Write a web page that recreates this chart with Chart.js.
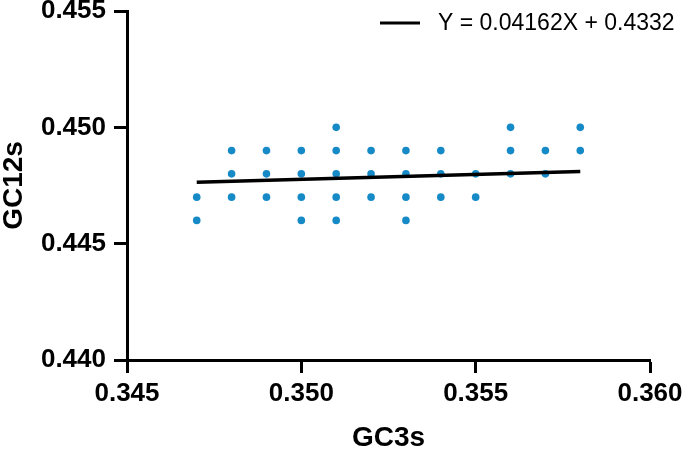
<!DOCTYPE html>
<html>
<head>
<meta charset="utf-8">
<script src="https://cdn.jsdelivr.net/npm/chart.js@4/dist/chart.umd.min.js"></script>
<style>
  html, body { margin: 0; padding: 0; background: #fff; }
  #wrap { width: 685px; height: 449px; }
</style>
</head>
<body>
<div id="wrap"><canvas id="c" width="685" height="449"></canvas></div>
<script>
// GC3s (x) values of the scatter points
const gc3 = [
  0.347, 0.347,
  0.348, 0.348, 0.348,
  0.349, 0.349, 0.349,
  0.350, 0.350, 0.350, 0.350,
  0.351, 0.351, 0.351, 0.351, 0.351,
  0.352, 0.352, 0.352,
  0.353, 0.353, 0.353, 0.353,
  0.354, 0.354, 0.354,
  0.355, 0.355,
  0.356, 0.356, 0.356,
  0.357, 0.357,
  0.358, 0.358
];
// GC12s (y) values of the scatter points
const gc12 = [
  0.447, 0.446,
  0.449, 0.448, 0.447,
  0.449, 0.448, 0.447,
  0.449, 0.448, 0.447, 0.446,
  0.450, 0.449, 0.448, 0.447, 0.446,
  0.449, 0.448, 0.447,
  0.449, 0.448, 0.447, 0.446,
  0.449, 0.448, 0.447,
  0.448, 0.447,
  0.450, 0.449, 0.448,
  0.449, 0.448,
  0.450, 0.449
];
// Regression line endpoints
const fitX = [0.347, 0.358];
const fitY = [0.44764, 0.44810];
const fitLabel = 'Y = 0.04162X + 0.4332';
// Tick labels
const xTicks = [0.345, 0.350, 0.355, 0.360];
const yTicks = [0.440, 0.445, 0.450, 0.455];

const FONT = "'Liberation Sans', Arial, Helvetica, sans-serif";
Chart.defaults.font.family = FONT;
Chart.defaults.color = '#000';

const points = gc3.map((x, i) => ({ x: x, y: gc12[i] }));
const fitPts = fitX.map((x, i) => ({ x: x, y: fitY[i] }));

const legendPlugin = {
  id: 'customLegend',
  afterDraw(chart) {
    const ctx = chart.ctx;
    const ds = chart.data.datasets[0];
    ctx.save();
    ctx.strokeStyle = '#000';
    ctx.lineWidth = 3;
    ctx.beginPath();
    ctx.moveTo(380, 23);
    ctx.lineTo(420, 23);
    ctx.stroke();
    ctx.fillStyle = '#000';
    ctx.font = "23px " + FONT;
    ctx.textBaseline = 'middle';
    ctx.textAlign = 'left';
    ctx.fillText(ds.label, 438, 24);
    ctx.restore();
  }
};

new Chart(document.getElementById('c'), {
  data: {
    datasets: [
      {
        type: 'line',
        label: fitLabel,
        data: fitPts,
        borderColor: '#000',
        borderWidth: 3.5,
        pointRadius: 0,
        fill: false,
        order: 0
      },
      {
        type: 'scatter',
        label: 'data',
        data: points,
        backgroundColor: '#168ac6',
        pointBackgroundColor: '#168ac6',
        pointBorderWidth: 0,
        pointRadius: 3.8,
        order: 1
      }
    ]
  },
  options: {
    responsive: false,
    animation: false,
    layout: { padding: { top: 11, right: 35, left: 0, bottom: 0 } },
    plugins: {
      legend: { display: false },
      tooltip: { enabled: false }
    },
    scales: {
      x: {
        type: 'linear',
        min: 0.345,
        max: 0.360,
        afterBuildTicks(scale) { scale.ticks = xTicks.map(v => ({ value: v })); },
        afterFit(scale) {
          scale.height = 89;
          scale.paddingLeft = 0; scale.paddingRight = 0;
        },
        border: { display: true, color: '#000', width: 3 },
        grid: { drawOnChartArea: false, drawTicks: true, tickLength: 13, tickWidth: 3, tickColor: '#000', color: '#000' },
        ticks: {
          padding: 5,
          font: { size: 26, weight: 'bold' },
          color: '#000',
          maxRotation: 0,
          autoSkip: false,
          callback: v => Number(v).toFixed(3)
        },
        title: {
          display: true,
          text: 'GC3s',
          color: '#000',
          font: { size: 28, weight: 'bold', lineHeight: 0.8 },
          padding: 0
        }
      },
      y: {
        type: 'linear',
        min: 0.440,
        max: 0.455,
        afterBuildTicks(scale) { scale.ticks = yTicks.map(v => ({ value: v })); },
        afterFit(scale) {
          scale.width = 127;
          scale.paddingTop = 0; scale.paddingBottom = 0;
        },
        border: { display: true, color: '#000', width: 3 },
        grid: { drawOnChartArea: false, drawTicks: true, tickLength: 13, tickWidth: 3, tickColor: '#000', color: '#000' },
        ticks: {
          padding: 8,
          font: { size: 26, weight: 'bold' },
          color: '#000',
          autoSkip: false,
          callback: v => Number(v).toFixed(3)
        },
        title: {
          display: true,
          text: 'GC12s',
          color: '#000',
          font: { size: 28, weight: 'bold', lineHeight: 1 },
          padding: 0
        }
      }
    }
  },
  plugins: [legendPlugin]
});
</script>
</body>
</html>
